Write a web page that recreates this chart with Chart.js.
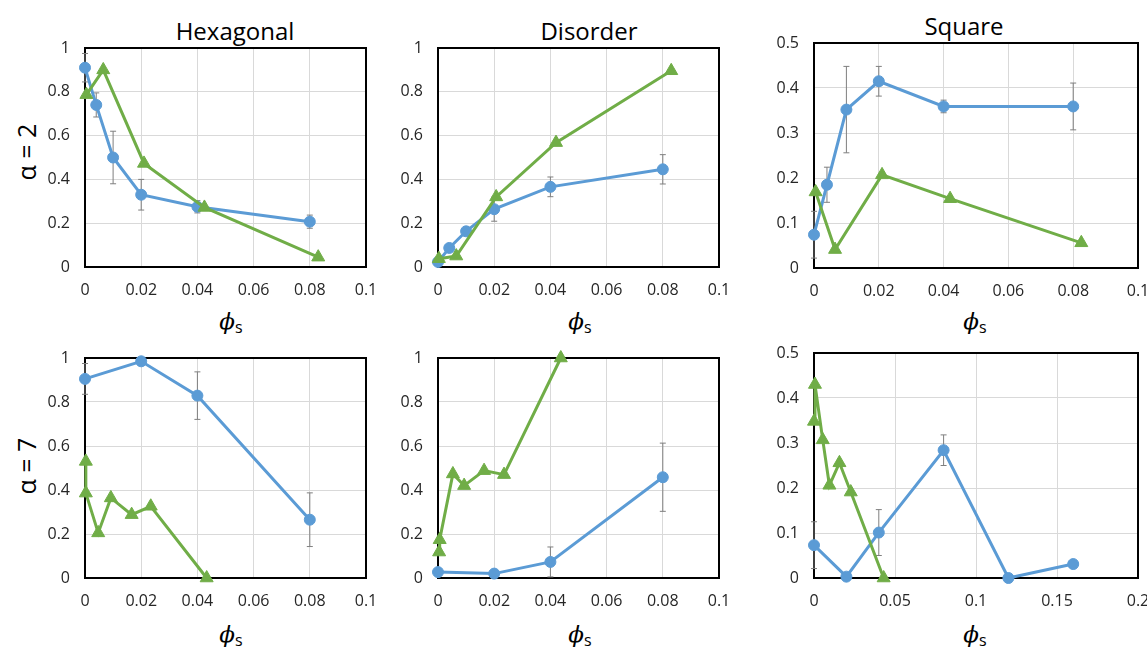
<!DOCTYPE html>
<html>
<head>
<meta charset="utf-8">
<script src="https://cdn.jsdelivr.net/npm/chart.js@4.4.0/dist/chart.umd.min.js"></script>
<style>
body { margin: 0; width: 1147px; height: 648px; overflow: hidden; background: #fff; position: relative; font-family: "Open Sans", sans-serif; }
canvas { position: absolute; }
.title { position: absolute; font-size: 24px; color: #000; transform: translate(-50%, -50%); white-space: nowrap; }
.xlab { position: absolute; transform: translate(-50%, -50%); white-space: nowrap; color: #000; }
.xlab i { font-family: "DejaVu Serif", serif; font-size: 23px; }
.xlab sub { font-size: 16px; vertical-align: -4px; }
.ylab { position: absolute; font-size: 25px; color: #000; transform: translate(-50%, -50%) rotate(-90deg); white-space: nowrap; }
</style>
</head>
<body>
<div class="title" style="left:235px;top:30px">Hexagonal</div>
<div class="title" style="left:589px;top:30px">Disorder</div>
<div class="title" style="left:964px;top:25px">Square</div>
<div class="ylab" style="left:26px;top:152px">α = 2</div>
<div class="ylab" style="left:26px;top:466px">α = 7</div>
<div class="xlab" style="left:231px;top:323px"><i>ϕ</i><sub>s</sub></div>
<div class="xlab" style="left:580px;top:323px"><i>ϕ</i><sub>s</sub></div>
<div class="xlab" style="left:975px;top:323px"><i>ϕ</i><sub>s</sub></div>
<div class="xlab" style="left:231px;top:636px"><i>ϕ</i><sub>s</sub></div>
<div class="xlab" style="left:580px;top:636px"><i>ϕ</i><sub>s</sub></div>
<div class="xlab" style="left:975px;top:636px"><i>ϕ</i><sub>s</sub></div>
<script>
// alpha = 2, hexagonal
const hexA2BlueX = [0, 0.004, 0.01, 0.02, 0.04, 0.08];
const hexA2BlueY = [0.91, 0.74, 0.50, 0.33, 0.275, 0.207];
const hexA2BlueErr = [0.065, 0.055, 0.12, 0.07, 0.028, 0.03];
const hexA2GreenX = [0.0005, 0.0065, 0.021, 0.0425, 0.083];
const hexA2GreenY = [0.787, 0.90, 0.473, 0.272, 0.045];

// alpha = 2, disorder
const disA2BlueX = [0, 0.004, 0.01, 0.02, 0.04, 0.08];
const disA2BlueY = [0.023, 0.087, 0.163, 0.264, 0.366, 0.446];
const disA2BlueErr = [0.005, 0.01, 0.02, 0.055, 0.045, 0.067];
const disA2GreenX = [0.0003, 0.0065, 0.0207, 0.042, 0.083];
const disA2GreenY = [0.038, 0.05, 0.32, 0.568, 0.896];

// alpha = 2, square
const sqA2BlueX = [0, 0.004, 0.01, 0.02, 0.04, 0.08];
const sqA2BlueY = [0.074, 0.185, 0.352, 0.415, 0.359, 0.359];
const sqA2BlueErr = [0.052, 0.039, 0.096, 0.033, 0.014, 0.052];
const sqA2GreenX = [0.0005, 0.0065, 0.021, 0.042, 0.0825];
const sqA2GreenY = [0.169, 0.041, 0.207, 0.154, 0.056];

// alpha = 7, hexagonal
const hexA7BlueX = [0, 0.02, 0.04, 0.08];
const hexA7BlueY = [0.905, 0.985, 0.829, 0.265];
const hexA7BlueErr = [0.07, 0, 0.108, 0.122];
const hexA7GreenX = [0.0003, 0.0003, 0.0047, 0.0092, 0.0166, 0.0234, 0.0433];
const hexA7GreenY = [0.53, 0.386, 0.205, 0.364, 0.288, 0.326, 0];

// alpha = 7, disorder
const disA7BlueX = [0, 0.02, 0.04, 0.08];
const disA7BlueY = [0.027, 0.02, 0.073, 0.458];
const disA7BlueErr = [0.005, 0.005, 0.068, 0.155];
const disA7GreenX = [0.0004, 0.0006, 0.0053, 0.0093, 0.0164, 0.0235, 0.0437];
const disA7GreenY = [0.118, 0.174, 0.473, 0.42, 0.488, 0.47, 1.0];

// alpha = 7, square
const sqA7BlueX = [0, 0.02, 0.04, 0.08, 0.12, 0.16];
const sqA7BlueY = [0.073, 0.003, 0.101, 0.284, 0, 0.031];
const sqA7BlueErr = [0.052, 0, 0.051, 0.034, 0, 0];
const sqA7GreenX = [0, 0.0006, 0.0054, 0.0095, 0.0157, 0.0227, 0.043];
const sqA7GreenY = [0.348, 0.43, 0.307, 0.206, 0.256, 0.191, 0];

// axis ranges: [xMax, xStep, yMax, yStep]
const axisA = [0.1, 0.02, 1, 0.2];
const axisSq = [0.1, 0.02, 0.5, 0.1];
const axisSqWide = [0.2, 0.05, 0.5, 0.1];

const blueColor = '#5B9BD5';
const greenColor = '#70AD47';

const pts = (xs, ys) => xs.map((x, i) => ({ x: x, y: ys[i] }));
const fmt = v => String(+(+v).toFixed(4));

const framePlugin = {
  id: 'frame',
  beforeDatasetsDraw(chart) {
    const ctx = chart.ctx, a = chart.chartArea;
    ctx.save();
    ctx.strokeStyle = '#000';
    ctx.lineWidth = 2;
    ctx.strokeRect(a.left, a.top, a.right - a.left, a.bottom - a.top);
    // error bars
    ctx.strokeStyle = '#7f7f7f';
    ctx.lineWidth = 1;
    chart.data.datasets.forEach((ds, di) => {
      if (!ds.errorBars) return;
      const meta = chart.getDatasetMeta(di);
      const ys = chart.scales.y;
      meta.data.forEach((p, i) => {
        const e = ds.errorBars[i];
        if (!e) return;
        const v = ds.data[i].y;
        const t = ys.getPixelForValue(v + e), b = ys.getPixelForValue(v - e);
        ctx.beginPath();
        ctx.moveTo(p.x, t); ctx.lineTo(p.x, b);
        ctx.moveTo(p.x - 3, t); ctx.lineTo(p.x + 3, t);
        ctx.moveTo(p.x - 3, b); ctx.lineTo(p.x + 3, b);
        ctx.stroke();
      });
    });
    ctx.restore();
  }
};

function panel(box, axis, bx, by, be, gx, gy) {
  const padL = 45, padT = 16, padR = 22, padB = 40;
  const cv = document.createElement('canvas');
  const w = box[2] - box[0] + padL + padR, h = box[3] - box[1] + padT + padB;
  cv.width = w; cv.height = h;
  cv.style.left = (box[0] - padL) + 'px';
  cv.style.top = (box[1] - padT) + 'px';
  cv.style.width = w + 'px'; cv.style.height = h + 'px';
  document.body.appendChild(cv);
  const tickFont = { family: "'Open Sans'", size: 16 };
  new Chart(cv, {
    type: 'scatter',
    data: {
      datasets: [
        {
          data: pts(gx, gy), showLine: true, borderColor: greenColor, backgroundColor: greenColor,
          borderWidth: 3, pointStyle: 'triangle', pointRadius: 7.5, pointBorderWidth: 1, clip: false, order: 0
        },
        {
          data: pts(bx, by), errorBars: be, showLine: true, borderColor: blueColor, backgroundColor: blueColor,
          borderWidth: 3, pointStyle: 'circle', pointRadius: 5.5, pointBorderWidth: 1, clip: false, order: 1
        }
      ]
    },
    options: {
      responsive: false,
      animation: false,
      layout: { padding: { top: padT, right: padR, left: 0, bottom: 0 } },
      plugins: { legend: { display: false }, tooltip: { enabled: false } },
      scales: {
        x: {
          type: 'linear', min: 0, max: axis[0],
          ticks: { stepSize: axis[1], padding: 3, font: tickFont, color: '#262626', callback: fmt, maxRotation: 0, autoSkip: false },
          grid: { color: '#d9d9d9', drawTicks: true, tickLength: 11, tickColor: 'rgba(0,0,0,0)' },
          border: { display: false },
          afterFit: s => { s.height = padB; }
        },
        y: {
          type: 'linear', min: 0, max: axis[2],
          ticks: { stepSize: axis[3], padding: 3, font: tickFont, color: '#262626', callback: fmt, autoSkip: false },
          grid: { color: '#d9d9d9', drawTicks: true, tickLength: 12, tickColor: 'rgba(0,0,0,0)' },
          border: { display: false },
          afterFit: s => { s.width = padL; }
        }
      }
    },
    plugins: [framePlugin]
  });
}

// plot boxes [left, top, right, bottom]
panel([85, 48, 366, 267], axisA, hexA2BlueX, hexA2BlueY, hexA2BlueErr, hexA2GreenX, hexA2GreenY);
panel([438, 48, 719, 267], axisA, disA2BlueX, disA2BlueY, disA2BlueErr, disA2GreenX, disA2GreenY);
panel([814, 43, 1138, 268], axisSq, sqA2BlueX, sqA2BlueY, sqA2BlueErr, sqA2GreenX, sqA2GreenY);
panel([85, 358, 366, 578], axisA, hexA7BlueX, hexA7BlueY, hexA7BlueErr, hexA7GreenX, hexA7GreenY);
panel([438, 358, 719, 578], axisA, disA7BlueX, disA7BlueY, disA7BlueErr, disA7GreenX, disA7GreenY);
panel([814, 353, 1138, 578], axisSqWide, sqA7BlueX, sqA7BlueY, sqA7BlueErr, sqA7GreenX, sqA7GreenY);
</script>
</body>
</html>
